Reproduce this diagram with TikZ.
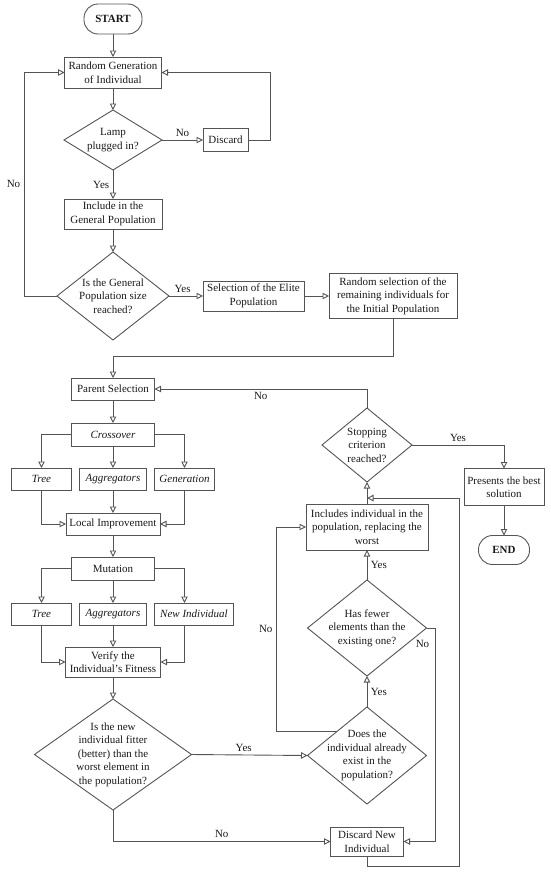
\documentclass[tikz,border=0pt]{standalone}
\usepackage{fontspec}
\setmainfont{Liberation Serif}
\usetikzlibrary{arrows.meta,positioning,shapes.geometric,calc}
\definecolor{linegray}{rgb}{0.33,0.33,0.33}
\definecolor{textgray}{rgb}{0.10,0.10,0.10}
\tikzset{
  box/.style  ={rectangle, draw=linegray, line width=0.9pt, align=center,
                inner sep=1pt, outer sep=0pt},
  boxI/.style ={box, font=\fontsize{11}{13.5}\selectfont\itshape},
  term/.style ={box, rounded corners=14pt, font=\fontsize{11}{13.5}\selectfont\bfseries,
                minimum width=58pt, minimum height=30pt},   % START / END
  dec/.style  ={diamond, draw=linegray, line width=0.9pt, align=center,
                inner sep=-14pt, outer sep=0pt},
  flow/.style ={-{Triangle[open,length=6.5pt,width=6.5pt]}, line width=0.9pt, draw=linegray},
}

\begin{document}
\begin{tikzpicture}[x=1pt, y=-1pt, font=\fontsize{11}{13.5}\selectfont, text=textgray]
  \useasboundingbox (0,0) rectangle (550,873);
  % initial population
  \node[term]                                                        (start)  at (113,19) {START};
  \node[box, below=23pt of start, minimum width=97pt, minimum height=31pt]  (rand)   {Random Generation\\of Individual};
  \node[dec, below=22pt of rand, minimum width=98pt, minimum height=60pt]   (lamp)   {Lamp\\plugged in?};
  \node[box, right=41pt of lamp, minimum width=45pt, minimum height=23pt]   (disc)   {Discard};
  \node[box, below=29pt of lamp, minimum width=98pt, minimum height=30pt]   (incl)   {Include in the\\General Population};
  \node[dec, below=23pt of incl, minimum width=112pt, minimum height=88pt]  (gpop)   {Is the General\\Population size\\reached?};
  \node[box, right=34pt of gpop, minimum width=101pt, minimum height=30pt]  (elite)  {Selection of the Elite\\Population};
  \node[box, right=25pt of elite, minimum width=128pt, minimum height=45pt] (rsel)   {Random selection of the\\remaining individuals for\\the Initial Population};
  % evolution
  \node[box, below=38pt of gpop, minimum width=83pt, minimum height=22pt]   (parent) {Parent Selection};
  \node[boxI, below=23pt of parent, minimum width=83pt, minimum height=23pt] (cross) {Crossover};
  \node[boxI, below=22pt of cross, minimum width=67pt, minimum height=22pt] (aggr1)  {Aggregators};
  \node[boxI, left=8pt of aggr1, minimum width=60pt, minimum height=22pt]   (tree1)  {Tree};
  \node[boxI, right=8pt of aggr1, minimum width=60pt, minimum height=22pt]  (gen1)   {Generation};
  \node[box, below=23pt of aggr1, minimum width=94pt, minimum height=22pt]  (local)  {Local Improvement};
  \node[box, below=22pt of local, minimum width=83pt, minimum height=23pt]  (mut)    {Mutation};
  \node[boxI, below=23pt of mut, minimum width=67pt, minimum height=22pt]   (aggr2)  {Aggregators};
  \node[boxI, left=8pt of aggr2, minimum width=60pt, minimum height=22pt]   (tree2)  {Tree};
  \node[boxI, right=8pt of aggr2, minimum width=79pt, minimum height=22pt]  (newind) {New Individual};
  \node[box, below=22pt of aggr2, minimum width=95pt, minimum height=30pt]  (verify) {Verify the\\Individual's Fitness};
  \node[dec, below=22pt of verify, minimum width=157pt, minimum height=111pt] (fit)  {Is the new\\individual fitter\\(better) than the\\worst element in\\the population?};
  % replacement
  \node[dec, minimum width=90pt, minimum height=74pt]                       (stop)   at (367,445) {Stopping\\criterion\\reached?};
  \node[box, below=22pt of stop, minimum width=122pt, minimum height=46pt]  (incs)   {Includes individual in the\\population, replacing the\\worst};
  \node[dec, below=30pt of incs, minimum width=119pt, minimum height=96pt]  (fewer)  {Has fewer\\elements than the\\existing one?};
  \node[dec, below=31pt of fewer, minimum width=119pt, minimum height=97pt] (exist)  {Does the\\individual already\\exist in the\\population?};
  \node[box, below=23pt of exist, minimum width=73pt, minimum height=29pt]  (discn)  {Discard New\\Individual};
  \node[box, minimum width=80pt, minimum height=37pt]                       (pres)   at (504,487) {Presents the best\\solution};
  \node[term, below=30pt of pres, minimum width=51pt, minimum height=29pt]  (endn)   {END};

  \draw[flow] (start) -- (rand);
  \draw[flow] (rand) -- (lamp);
  \draw[flow] (lamp) -- node[above] {No} (disc);
  \draw[flow] (disc.east) -- ++(22,0) |- (rand.east);
  \draw[flow] (lamp) -- node[left] {Yes} (incl);
  \draw[flow] (incl) -- (gpop);
  \draw[flow] (gpop.west) -- ++(-33,0) |- node[pos=0.25, left] {No} (rand.west);
  \draw[flow] (gpop) -- node[above, pos=0.4] {Yes} (elite);
  \draw[flow] (elite) -- (rsel);
  \draw[flow] (rsel.south) -- ++(0,38) -| (parent.north);
  \draw[flow] (stop.north) |- node[pos=0.75, below] {No} (parent.east);
  \draw[flow] (parent) -- (cross);
  \draw[flow] (cross.west) -| (tree1.north);
  \draw[flow] (cross) -- (aggr1);
  \draw[flow] (cross.east) -| (gen1.north);
  \draw[flow] (tree1.south) |- (local.west);
  \draw[flow] (aggr1) -- (local);
  \draw[flow] (gen1.south) |- (local.east);
  \draw[flow] (local) -- (mut);
  \draw[flow] (mut.west) -| (tree2.north);
  \draw[flow] (mut) -- (aggr2);
  \draw[flow] (mut.east) -| (newind.north -| gen1.south);
  \draw[flow] (tree2.south) |- (verify.west);
  \draw[flow] (aggr2) -- (verify);
  \draw[flow] (newind.south -| gen1.south) |- (verify.east);
  \draw[flow] (verify) -- (fit);
  \draw[flow] (fit.east) -- node[above, pos=0.45] {Yes} (exist.west);
  \draw[flow] (fit.south) |- node[pos=0.75, above] {No} (discn.west);
  \draw[flow] (exist) -- node[right] {Yes} (fewer);
  \draw[flow] (fewer) -- node[right] {Yes} (incs);
  \draw[flow] (incs) -- (stop);
  \draw[flow] (exist.north west) -- ++(-61,0) |- node[pos=0.25, left] {No} (incs.west);
  \draw[flow] (fewer.east) node[below=9pt, xshift=-4pt] {No} -- ++(9,0) |- (discn.east);
  \coordinate (join) at ($(incs.north)!0.27!(stop.south)$);
  \draw[flow] (discn.south) -- ++(0,10) -- ++(92,0) |- (join);
  \draw[flow] (stop.east) -| node[pos=0.25, above] {Yes} (pres.north);
  \draw[flow] (pres) -- (endn);
\end{tikzpicture}
\end{document}
